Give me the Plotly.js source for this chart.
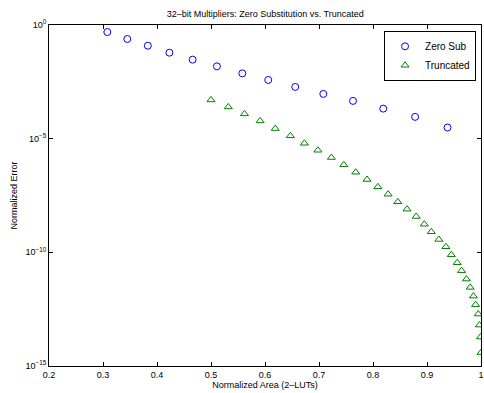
<!DOCTYPE html>
<html>
<head>
<meta charset="utf-8">
<script src="https://cdn.plot.ly/plotly-3.0.1.min.js"></script>
<style>html,body{margin:0;padding:0;background:#fff;}#chart{width:484px;height:393px;}</style>
</head>
<body>
<div id="chart"></div>
<script>
const zeroSubArea = [0.308, 0.345, 0.383, 0.423, 0.466, 0.511, 0.558, 0.606, 0.656, 0.708, 0.763, 0.819, 0.878, 0.938];
const zeroSubError = [0.49, 0.243, 0.123, 0.0607, 0.0299, 0.0152, 0.00746, 0.00383, 0.00189, 0.00093, 0.000458, 0.00021, 9.1e-5, 3.1e-5];

const truncArea = [0.500, 0.532, 0.562, 0.591, 0.619, 0.647, 0.673, 0.698, 0.723, 0.746, 0.768, 0.789, 0.809, 0.828, 0.846, 0.863, 0.880, 0.895, 0.908, 0.922, 0.935, 0.945, 0.956, 0.964, 0.973, 0.980, 0.986, 0.990, 0.995, 0.997, 0.999, 1.000];
const truncError = [5.07e-4, 2.49e-4, 1.23e-4, 6.05e-5, 2.78e-5, 1.33e-5, 6.28e-6, 3.09e-6, 1.48e-6, 7.06e-7, 3.34e-7, 1.60e-7, 7.62e-8, 3.61e-8, 1.67e-8, 7.91e-9, 3.78e-9, 1.73e-9, 8.04e-10, 3.69e-10, 1.76e-10, 7.85e-11, 3.49e-11, 1.56e-11, 6.65e-12, 2.87e-12, 1.19e-12, 4.99e-13, 1.93e-13, 6.32e-14, 1.88e-14, 3.88e-15];

const yTickVals = [1e-15, 1e-10, 1e-5, 1];
const yTickText = ['10<sup>−15</sup>', '10<sup>−10</sup>', '10<sup>−5</sup>', '10<sup>0</sup>'];
const xTickVals = [0.2, 0.3, 0.4, 0.5, 0.6, 0.7, 0.8, 0.9, 1];
const xTickText = ['0.2', '0.3', '0.4', '0.5', '0.6', '0.7', '0.8', '0.9', '1'];

const traces = [
  {x: zeroSubArea, y: zeroSubError, name: 'Zero Sub', type: 'scatter', mode: 'markers',
   marker: {symbol: 'circle-open', size: 7, color: '#0000ff', line: {width: 1, color: '#0000ff'}}},
  {x: truncArea, y: truncError, name: 'Truncated', type: 'scatter', mode: 'markers',
   marker: {symbol: 'triangle-up-open', size: 7, color: '#008000', line: {width: 1, color: '#008000'}}}
];

const fontFam = 'Liberation Sans, Arial, sans-serif';
const layout = {
  width: 484, height: 393,
  margin: {l: 49, r: 3, t: 25, b: 27},
  paper_bgcolor: '#fff', plot_bgcolor: '#fff',
  font: {family: fontFam, size: 9, color: '#000'},
  title: {text: '32–bit Multipliers: Zero Substitution vs. Truncated', font: {size: 9, family: fontFam}, x: 0.548, xanchor: 'center', y: 0.966, yanchor: 'middle'},
  showlegend: true,
  legend: {x: 0.9885, y: 0.983, xanchor: 'right', yanchor: 'top', bgcolor: '#fff', bordercolor: '#000', borderwidth: 1, font: {size: 10, family: fontFam}, tracegroupgap: 0, itemwidth: 30},
  xaxis: {
    range: [0.2, 1], tickvals: xTickVals, ticktext: xTickText,
    showgrid: false, zeroline: false, showline: true, linecolor: '#000', linewidth: 1, mirror: 'ticks',
    ticks: 'inside', ticklen: 4, tickcolor: '#000', tickfont: {size: 9},
    title: {text: 'Normalized Area (2–LUTs)', font: {size: 9}, standoff: 2}
  },
  yaxis: {
    type: 'log', range: [-15, 0], tickvals: yTickVals, ticktext: yTickText,
    showgrid: false, zeroline: false, showline: true, linecolor: '#000', linewidth: 1, mirror: 'ticks',
    ticks: 'inside', ticklen: 4, tickcolor: '#000', tickfont: {size: 9},
    title: {text: 'Normalized Error', font: {size: 9}, standoff: 6}
  }
};
Plotly.newPlot('chart', traces, layout, {displayModeBar: false, staticPlot: true});
</script>
</body>
</html>
